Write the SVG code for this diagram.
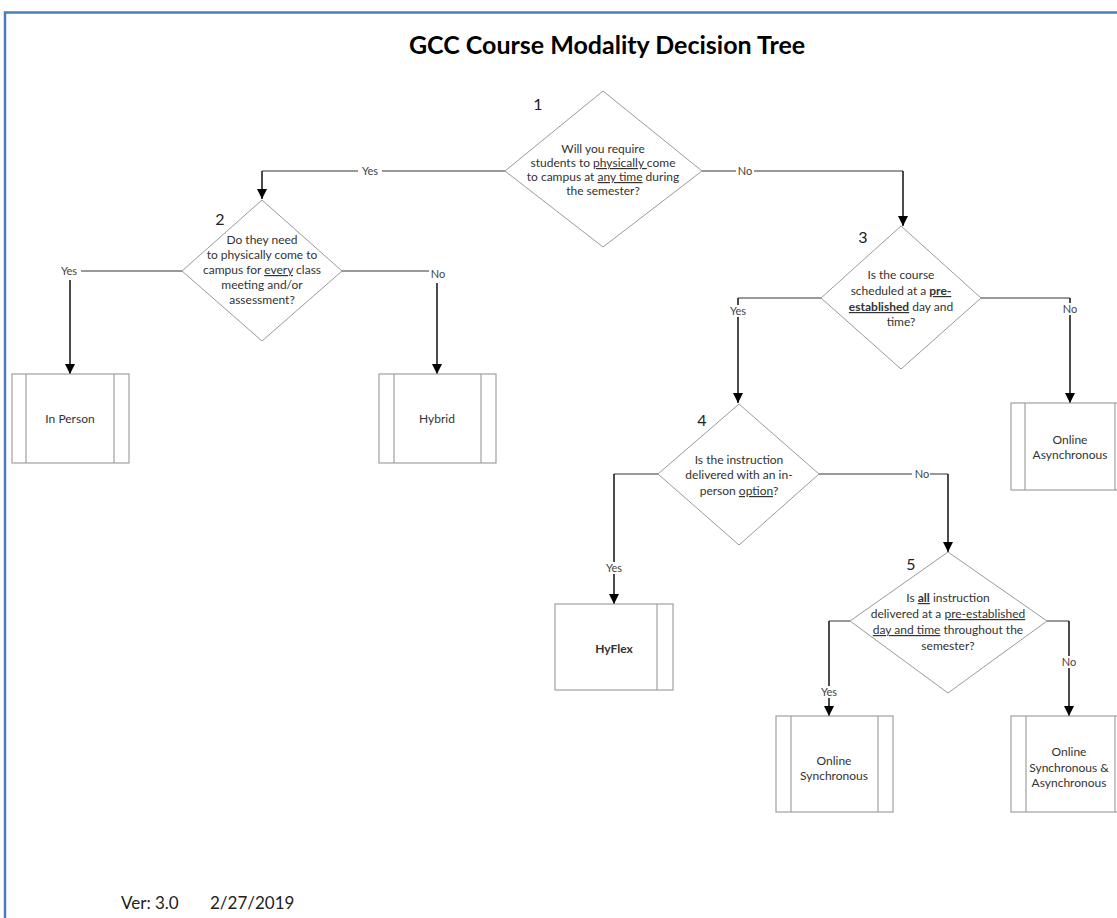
<svg xmlns="http://www.w3.org/2000/svg" width="1117" height="918" viewBox="0 0 1117 918">
<style>
.t{font-family:Lato,"Open Sans","Liberation Sans",sans-serif;font-size:12px;fill:#333;text-anchor:middle}
.num{font-family:Lato,"Open Sans","Liberation Sans",sans-serif;font-size:16px;fill:#222;text-anchor:middle}
.lbl{font-family:Lato,"Open Sans","Liberation Sans",sans-serif;font-size:11px;fill:#444;text-anchor:middle}
.dia{fill:#fff;stroke:#9a9a9a;stroke-width:1}
.box{fill:#fff;stroke:#a0a0a0;stroke-width:1.2}
.inner{stroke:#a0a0a0;stroke-width:1.2}
.h{fill:none;stroke:#777;stroke-width:1.5}
.v{fill:none;stroke:#111;stroke-width:1.5;marker-end:url(#arr)}
.u{text-decoration:underline}
.b{font-weight:bold}
.bg{fill:#fff}
</style>
<defs>
<marker id="arr" markerUnits="userSpaceOnUse" markerWidth="12" markerHeight="12" refX="10" refY="5" orient="auto">
<path d="M0,0 L10,5 L0,10 Z" fill="#000"/>
</marker>
</defs>
<rect width="1117" height="918" fill="#fff"/>
<path d="M5,918 V12.5 H1117" fill="none" stroke="#4a7ebb" stroke-width="2.5"/>
<text x="607" y="54" font-family="Lato,'Open Sans','Liberation Sans',sans-serif" font-size="25" font-weight="bold" fill="#000" text-anchor="middle">GCC Course Modality Decision Tree</text>

<g id="connectors">
  <path class="h" d="M505,171 H262"/>
  <path class="v" d="M262,171 V199"/>
  <rect class="bg" x="358" y="165" width="24" height="12"/>
  <text class="lbl" x="370" y="175">Yes</text>
  <path class="h" d="M702,171 H903"/>
  <path class="v" d="M903,171 V226"/>
  <rect class="bg" x="736" y="165" width="18" height="12"/>
  <text class="lbl" x="745" y="175">No</text>

  <path class="h" d="M182,271 H81"/>
  <text class="lbl" x="69" y="275">Yes</text>
  <path class="v" d="M70,280 V374"/>
  <path class="h" d="M342,271 H429"/>
  <text class="lbl" x="438" y="278">No</text>
  <path class="v" d="M437,283 V374"/>

  <path class="h" d="M821,298 H738"/>
  <path class="v" d="M738,298 V403"/>
  <rect class="bg" x="726" y="305" width="24" height="12"/>
  <text class="lbl" x="738" y="315">Yes</text>
  <path class="h" d="M981,298 H1070"/>
  <path class="v" d="M1070,298 V403"/>
  <rect class="bg" x="1061" y="303" width="18" height="12"/>
  <text class="lbl" x="1070" y="313">No</text>

  <path class="h" d="M658,474 H614"/>
  <path class="v" d="M614,474 V604"/>
  <rect class="bg" x="602" y="562" width="24" height="12"/>
  <text class="lbl" x="614" y="572">Yes</text>
  <path class="h" d="M819,474 H948"/>
  <path class="v" d="M948,474 V552"/>
  <rect class="bg" x="912" y="468" width="18" height="12"/>
  <text class="lbl" x="922" y="478">No</text>

  <path class="h" d="M850,621 H829"/>
  <path class="v" d="M829,621 V716"/>
  <rect class="bg" x="817" y="686" width="24" height="12"/>
  <text class="lbl" x="829" y="696">Yes</text>
  <path class="h" d="M1047,621 H1069"/>
  <path class="v" d="M1069,621 V716"/>
  <rect class="bg" x="1060" y="656" width="18" height="12"/>
  <text class="lbl" x="1069" y="666">No</text>
</g>

<g id="d1">
  <polygon class="dia" points="603,91 702,171 603,247 505,171"/>
  <text class="num" x="538" y="110">1</text>
  <text class="t" x="603" y="153">Will you require</text>
  <text class="t" x="603" y="167">students to <tspan class="u">physically </tspan>come</text>
  <text class="t" x="603" y="181">to campus at <tspan class="u">any time</tspan> during</text>
  <text class="t" x="603" y="195">the semester?</text>
</g>

<g id="d2">
  <polygon class="dia" points="262,200 342,271 262,341 182,271"/>
  <text class="num" x="220" y="225">2</text>
  <text class="t" x="262" y="244">Do they need</text>
  <text class="t" x="262" y="259">to physically come to</text>
  <text class="t" x="262" y="274">campus for <tspan class="u">every</tspan> class</text>
  <text class="t" x="262" y="289">meeting and/or</text>
  <text class="t" x="262" y="304">assessment?</text>
</g>

<g id="d3">
  <polygon class="dia" points="901,226 981,298 901,369 821,298"/>
  <text class="num" x="863" y="243">3</text>
  <text class="t" x="901" y="279">Is the course</text>
  <text class="t" x="901" y="295">scheduled  at a <tspan class="b u">pre-</tspan></text>
  <text class="t" x="901" y="311"><tspan class="b u">established</tspan> day and</text>
  <text class="t" x="901" y="326">time?</text>
</g>

<g id="d4">
  <polygon class="dia" points="739,404 819,474 739,545 658,474"/>
  <text class="num" x="702" y="426">4</text>
  <text class="t" x="739" y="464">Is the instruction</text>
  <text class="t" x="739" y="479">delivered with an in-</text>
  <text class="t" x="739" y="495">person <tspan class="u">option</tspan>?</text>
</g>

<g id="d5">
  <polygon class="dia" points="948,552 1047,621 948,693 850,621"/>
  <text class="num" x="911" y="570">5</text>
  <text class="t" x="948" y="602">Is <tspan class="b u">all</tspan> instruction</text>
  <text class="t" x="948" y="618">delivered at a <tspan class="u">pre-established</tspan></text>
  <text class="t" x="948" y="634"><tspan class="u">day and time</tspan> throughout the</text>
  <text class="t" x="948" y="650">semester?</text>
</g>

<g id="inperson">
  <rect class="box" x="12" y="374" width="117" height="89"/>
  <line class="inner" x1="26" y1="374" x2="26" y2="463" stroke="#ccc"/>
  <line class="inner" x1="114" y1="374" x2="114" y2="463"/>
  <text class="t" x="70" y="423">In Person</text>
</g>

<g id="hybrid">
  <rect class="box" x="379" y="374" width="117" height="89"/>
  <line class="inner" x1="394" y1="374" x2="394" y2="463"/>
  <line class="inner" x1="481" y1="374" x2="481" y2="463"/>
  <text class="t" x="437" y="423">Hybrid</text>
</g>

<g id="onlineasync">
  <rect class="box" x="1011" y="403" width="120" height="87"/>
  <line class="inner" x1="1025" y1="403" x2="1025" y2="490"/>
  <line class="inner" x1="1115" y1="403" x2="1115" y2="490"/>
  <text class="t" x="1070" y="444">Online</text>
  <text class="t" x="1070" y="459">Asynchronous</text>
</g>

<g id="hyflex">
  <rect class="box" x="555" y="604" width="118" height="86"/>
  <line class="inner" x1="657" y1="604" x2="657" y2="690"/>
  <text class="t b" x="614" y="653">HyFlex</text>
</g>

<g id="onlinesync">
  <rect class="box" x="776" y="716" width="117" height="96"/>
  <line class="inner" x1="791" y1="716" x2="791" y2="812"/>
  <line class="inner" x1="878" y1="716" x2="878" y2="812"/>
  <text class="t" x="834" y="765">Online</text>
  <text class="t" x="834" y="780">Synchronous</text>
</g>

<g id="onlinesyncasync">
  <rect class="box" x="1011" y="716" width="120" height="96"/>
  <line class="inner" x1="1026" y1="716" x2="1026" y2="812"/>
  <line class="inner" x1="1115" y1="716" x2="1115" y2="812"/>
  <text class="t" x="1069" y="756">Online</text>
  <text class="t" x="1069" y="772">Synchronous &amp;</text>
  <text class="t" x="1069" y="787">Asynchronous</text>
</g>

<text x="121" y="909" font-family="Lato,'Open Sans','Liberation Sans',sans-serif" font-size="17" fill="#222">Ver: 3.0</text>
<text x="210" y="909" font-family="Lato,'Open Sans','Liberation Sans',sans-serif" font-size="17" fill="#222">2/27/2019</text>
</svg>
